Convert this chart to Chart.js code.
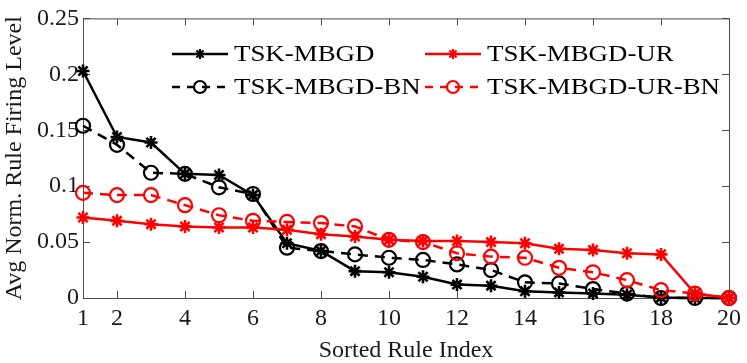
<!DOCTYPE html>
<html>
<head>
<meta charset="utf-8">
<script src="https://cdn.jsdelivr.net/npm/chart.js@4.4.0/dist/chart.umd.min.js"></script>
<style>
  html, body { margin: 0; padding: 0; background: #fff; }
  #wrap { width: 747px; height: 363px; }
</style>
</head>
<body>
<div id="wrap"><canvas id="myChart"></canvas></div>
<script>
'use strict';

//////////////// data ////////////////

let ruleIndex = [1, 2, 3, 4, 5, 6, 7, 8, 9, 10, 11, 12, 13, 14, 15, 16, 17, 18, 19, 20];

let mbgd = [0.203, 0.144, 0.139, 0.111, 0.110, 0.092, 0.049, 0.042, 0.024, 0.023,
  0.019, 0.012, 0.011, 0.006, 0.005, 0.004, 0.003, 0.0005, 0, 0];
let mbgdBN = [0.154, 0.137, 0.112, 0.111, 0.099, 0.093, 0.045, 0.042, 0.039, 0.036,
  0.034, 0.030, 0.025, 0.014, 0.013, 0.008, 0.004, 0, 0, 0];
let mbgdUR = [0.072, 0.069, 0.066, 0.064, 0.063, 0.063, 0.061, 0.057, 0.055, 0.052,
  0.051, 0.051, 0.050, 0.049, 0.044, 0.043, 0.040, 0.039, 0.004, 0];
let mbgdURBN = [0.094, 0.092, 0.092, 0.083, 0.074, 0.069, 0.068, 0.067, 0.064, 0.052,
  0.050, 0.040, 0.037, 0.036, 0.027, 0.023, 0.016, 0.007, 0.004, 0];

let xTicks = [1, 2, 4, 6, 8, 10, 12, 14, 16, 18, 20];
let yTicks = [0, 0.05, 0.1, 0.15, 0.2, 0.25];

let seriesNames = ['TSK-MBGD', 'TSK-MBGD-UR', 'TSK-MBGD-BN', 'TSK-MBGD-UR-BN'];

//////////////// helpers ////////////////

function toPoints(values) {
  let pts = [];
  for (let i = 0; i < ruleIndex.length; i++) {
    pts.push({ x: ruleIndex[i], y: values[i] });
  }
  return pts;
}

const FONT = 'Liberation Serif';
const RED = '#ff0000';
const BLACK = '#000000';

function makeSet(label, values, color, dashed, order) {
  return {
    label: label,
    data: toPoints(values),
    borderColor: color,
    backgroundColor: color,
    borderWidth: 2.5,
    borderDash: dashed ? [10, 7] : [],
    pointStyle: dashed ? 'circle' : 'star',
    pointRadius: dashed ? 7 : 6.5,
    pointBorderWidth: dashed ? 2.2 : 2.6,
    pointBackgroundColor: 'rgba(0,0,0,0)',
    pointBorderColor: color,
    tension: 0,
    clip: false,
    order: order
  };
}

//////////////// box + inward ticks (matlab look) ////////////////

const axisBox = {
  id: 'axisBox',
  beforeDatasetsDraw(chart) {
    const ctx = chart.ctx;
    const a = chart.chartArea;
    const xs = chart.scales.x;
    const ys = chart.scales.y;
    ctx.save();
    ctx.strokeStyle = '#4d4d4d';
    ctx.lineWidth = 1;
    ctx.strokeRect(a.left + 0.5, a.top + 0.5, a.right - a.left, a.bottom - a.top);
    ctx.beginPath();
    for (let i = 1; i < xTicks.length; i++) {
      let px = Math.round(xs.getPixelForValue(xTicks[i])) + 0.5;
      ctx.moveTo(px, a.bottom);
      ctx.lineTo(px, a.bottom - 7);
      ctx.moveTo(px, a.top);
      ctx.lineTo(px, a.top + 7);
    }
    for (let i = 0; i < yTicks.length; i++) {
      let py = Math.round(ys.getPixelForValue(yTicks[i])) + 0.5;
      ctx.moveTo(a.left, py);
      ctx.lineTo(a.left + 7, py);
      ctx.moveTo(a.right, py);
      ctx.lineTo(a.right - 7, py);
    }
    ctx.stroke();
    ctx.restore();
  }
};

//////////////// legend drawn as line + marker samples ////////////////

const lineLegend = {
  id: 'lineLegend',
  afterDraw(chart) {
    const ctx = chart.ctx;
    let entries = [
      { name: seriesNames[0], color: BLACK, dashed: false, x: 172, y: 54 },
      { name: seriesNames[1], color: RED, dashed: false, x: 425, y: 54 },
      { name: seriesNames[2], color: BLACK, dashed: true, x: 172, y: 87 },
      { name: seriesNames[3], color: RED, dashed: true, x: 425, y: 87 }
    ];
    ctx.save();
    for (let i = 0; i < entries.length; i++) {
      let e = entries[i];
      ctx.strokeStyle = e.color;
      ctx.lineWidth = 2.5;
      ctx.setLineDash(e.dashed ? [8, 7] : []);
      ctx.beginPath();
      ctx.moveTo(e.x, e.y);
      ctx.lineTo(e.x + 56, e.y);
      ctx.stroke();
      ctx.setLineDash([]);
      ctx.lineWidth = 2.2;
      ctx.fillStyle = 'rgba(0,0,0,0)';
      Chart.helpers.drawPoint(ctx, {
        pointStyle: e.dashed ? 'circle' : 'star',
        radius: e.dashed ? 6 : 5,
        borderWidth: 2.2
      }, e.x + 28, e.y);
      ctx.fillStyle = '#000';
      ctx.font = '24px "' + FONT + '"';
      ctx.textBaseline = 'middle';
      ctx.textAlign = 'left';
      ctx.save();
      ctx.translate(e.x + 62, e.y);
      ctx.scale(1.12, 1);
      ctx.fillText(e.name, 0, 1);
      ctx.restore();
    }
    ctx.restore();
  }
};

//////////////// chart ////////////////

Chart.defaults.font.family = FONT;
Chart.defaults.color = '#1a1a1a';

let ctx = document.getElementById('myChart').getContext('2d');
let myChart = new Chart(ctx, {
  type: 'line',
  data: {
    datasets: [
      makeSet(seriesNames[0], mbgd, BLACK, false, 4),
      makeSet(seriesNames[2], mbgdBN, BLACK, true, 3),
      makeSet(seriesNames[1], mbgdUR, RED, false, 2),
      makeSet(seriesNames[3], mbgdURBN, RED, true, 1)
    ]
  },
  options: {
    responsive: true,
    maintainAspectRatio: false,
    animation: false,
    layout: { padding: { left: 0, right: 16, top: 17, bottom: 0 } },
    plugins: {
      legend: { display: false },
      tooltip: { enabled: false }
    },
    scales: {
      x: {
        type: 'linear',
        min: 1,
        max: 20,
        afterBuildTicks(scale) {
          scale.ticks = xTicks.map(v => ({ value: v }));
        },
        afterFit(scale) { scale.height = 65; },
        grid: { display: false, drawTicks: false },
        border: { display: false },
        ticks: {
          padding: 6,
          maxRotation: 0,
          autoSkip: false,
          font: { size: 24 },
          color: '#1a1a1a',
          callback: v => String(v)
        },
        title: {
          display: true,
          text: 'Sorted Rule Index',
          font: { size: 24 },
          color: '#1a1a1a',
          padding: { top: 0, bottom: -2 }
        }
      },
      y: {
        min: 0,
        max: 0.25,
        afterBuildTicks(scale) {
          scale.ticks = yTicks.map(v => ({ value: v }));
        },
        afterFit(scale) { scale.width = 83; },
        grid: { display: false, drawTicks: false },
        border: { display: false },
        ticks: {
          padding: 4,
          font: { size: 24 },
          color: '#1a1a1a',
          callback: v => String(v)
        },
        title: {
          display: true,
          text: 'Avg Norm. Rule Firing Level',
          font: { size: 24 },
          color: '#1a1a1a',
          padding: { top: 0, bottom: 0 }
        }
      }
    }
  },
  plugins: [axisBox, lineLegend]
});
</script>
</body>
</html>
